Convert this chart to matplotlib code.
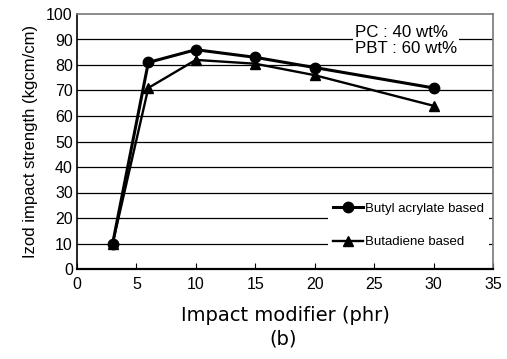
import matplotlib
matplotlib.use("Agg")
import matplotlib.pyplot as plt
from matplotlib.lines import Line2D

plt.rcParams['font.family'] = ['Liberation Sans', 'DejaVu Sans']

phr = [3, 6, 10, 15, 20, 30]
butyl_acrylate = [10, 81, 86, 83, 79, 71]
butadiene = [10, 71, 82, 80.5, 76, 64]

fig = plt.figure(figsize=(5.07, 3.59), dpi=100)
ax = fig.add_axes([77/507, 1 - 269/359, 416/507, 255/359])

for yv in range(10, 100, 10):
    ax.axhline(yv, color='black', lw=0.9, zorder=1)

ax.plot(phr, butadiene, color='black', lw=1.7, marker='^', ms=7.5, zorder=3)
ax.plot(phr, butyl_acrylate, color='black', lw=2.2, marker='o', ms=7.5, zorder=4)

ax.set_xlim(0, 35)
ax.set_ylim(0, 100)
ax.set_xticks(range(0, 36, 5))
ax.set_yticks(range(0, 101, 10))
ax.tick_params(axis='x', direction='in', length=4, labelsize=11.5, pad=6)
ax.tick_params(axis='y', length=0, labelsize=11.5, pad=3)
for s in ['top', 'right']:
    ax.spines[s].set_color('#777777')
    ax.spines[s].set_linewidth(1.2)
ax.spines['left'].set_linewidth(1.2)
ax.spines['bottom'].set_linewidth(1.6)

ax.set_ylabel('Izod impact strength (kgcm/cm)', fontsize=12, labelpad=6)
ax.set_xlabel('Impact modifier (phr)', fontsize=14, labelpad=10,
              family=['DejaVu Sans'])
fig.text(283/507, 1 - 339/359, '(b)', fontsize=14, family=['DejaVu Sans'],
         ha='center', va='center')

ax.text(23.4, 83.6, 'PC : 40 wt%\nPBT : 60 wt%', fontsize=12.2, va='bottom',
        linespacing=1.05, zorder=5,
        bbox=dict(facecolor='white', edgecolor='none', pad=1.5))

handles = [Line2D([], [], color='black', lw=2.2, marker='o', ms=7.5),
           Line2D([], [], color='black', lw=1.7, marker='^', ms=7.5)]
leg = ax.legend(handles, ['Butyl acrylate based', 'Butadiene based'],
                loc='lower right', bbox_to_anchor=(0.99, 0.06), borderaxespad=0,
                frameon=True, fancybox=False, facecolor='white', edgecolor='none',
                framealpha=1, borderpad=0.4,
                handlelength=2.3, handletextpad=0.1, labelspacing=1.6,
                prop={'family': ['Liberation Sans Narrow', 'Liberation Sans'], 'size': 9.5})
leg.set_zorder(2)

fig.savefig('out.png', dpi=100)
